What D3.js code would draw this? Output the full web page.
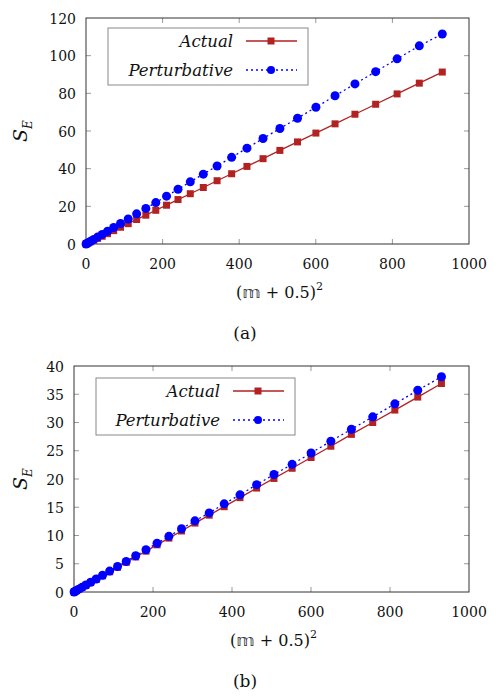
<!DOCTYPE html>
<html>
<head>
<meta charset="utf-8">
<script src="https://cdn.jsdelivr.net/npm/d3@7"></script>
<style>
  body { margin: 0; background: #fff; }
</style>
</head>
<body>
<div id="chart"></div>
<script>
// x values: (n + 0.5)^2 for n = 0..30
const xVals = [0.25, 2.25, 6.25, 12.25, 20.25, 30.25, 42.25, 56.25, 72.25, 90.25,
  110.25, 132.25, 156.25, 182.25, 210.25, 240.25, 272.25, 306.25, 342.25, 380.25,
  420.25, 462.25, 506.25, 552.25, 600.25, 650.25, 702.25, 756.25, 812.25, 870.25, 930.25]

// panel (a)
const actualA = [0.03, 0.22, 0.62, 1.2, 2.0, 3.0, 4.1, 5.5, 7.1, 8.9,
  10.8, 13.0, 15.3, 17.9, 20.6, 23.6, 26.7, 30.0, 33.6, 37.3,
  41.2, 45.3, 49.7, 54.2, 58.9, 63.8, 68.9, 74.2, 79.7, 85.4, 91.3]
const pertA = [0.03, 0.27, 0.76, 1.48, 2.45, 3.66, 5.1, 6.8, 8.75, 10.9,
  13.3, 16.0, 18.9, 22.0, 25.4, 29.1, 33.0, 37.1, 41.4, 46.0,
  50.9, 56.0, 61.3, 66.8, 72.6, 78.7, 85.0, 91.5, 98.3, 105.2, 111.5]
const yTicksA = [0, 20, 40, 60, 80, 100, 120]

// panel (b)
const actualB = [0.01, 0.09, 0.25, 0.49, 0.80, 1.20, 1.68, 2.23, 2.87, 3.58,
  4.38, 5.25, 6.20, 7.23, 8.35, 9.54, 10.8, 12.2, 13.6, 15.1,
  16.7, 18.4, 20.1, 21.9, 23.8, 25.8, 27.9, 30.0, 32.2, 34.5, 36.9]
const pertB = [0.01, 0.09, 0.26, 0.50, 0.83, 1.24, 1.73, 2.31, 2.96, 3.70,
  4.52, 5.42, 6.41, 7.47, 8.62, 9.85, 11.2, 12.6, 14.0, 15.6,
  17.2, 19.0, 20.8, 22.6, 24.6, 26.7, 28.8, 31.0, 33.3, 35.7, 38.1]
const yTicksB = [0, 5, 10, 15, 20, 25, 30, 35, 40]

const xTicks = [0, 200, 400, 600, 800, 1000]
const seriesNames = ["Actual", "Perturbative"]

const red = "#b22222"
const blue = "#0000ff"
const serif = "'DejaVu Serif', 'Liberation Serif', serif"

const svg = d3.select("#chart").append("svg")
  .attr("width", 498)
  .attr("height", 700)
  .attr("font-family", serif)
  .style("fill", "#111")

const drawPanel = (cfg) => {
  const x = d3.scaleLinear().domain([0, 1000]).range([cfg.left, cfg.right])
  const y = d3.scaleLinear().domain([0, cfg.yMax]).range([cfg.bottom, cfg.top])
  const g = svg.append("g")

  // ticks inside, on all four sides
  const tickLen = 5
  g.selectAll(".xt").data(xTicks.slice(1, -1)).enter().append("path")
    .attr("d", d => `M${x(d)},${cfg.bottom}v${-tickLen}M${x(d)},${cfg.top}v${tickLen}`)
    .attr("stroke", "#999").attr("stroke-width", 1)
  g.selectAll(".yt").data(cfg.yTicks.slice(1, -1)).enter().append("path")
    .attr("d", d => `M${cfg.left},${y(d)}h${tickLen}M${cfg.right},${y(d)}h${-tickLen}`)
    .attr("stroke", "#999").attr("stroke-width", 1)

  // frame
  g.append("rect")
    .attr("x", cfg.left).attr("y", cfg.top)
    .attr("width", cfg.right - cfg.left).attr("height", cfg.bottom - cfg.top)
    .attr("fill", "none").attr("stroke", "#333").attr("stroke-width", 1)

  // tick labels
  g.selectAll(".xl").data(xTicks).enter().append("text")
    .attr("x", d => x(d)).attr("y", cfg.bottom + 25)
    .attr("text-anchor", "middle").attr("font-size", 14)
    .text(d => d)
  g.selectAll(".yl").data(cfg.yTicks).enter().append("text")
    .attr("x", cfg.left - 10).attr("y", d => y(d) + 5.5)
    .attr("text-anchor", "end").attr("font-size", 14)
    .text(d => d)

  // axis labels
  const xl = g.append("text")
    .attr("x", (cfg.left + cfg.right) / 2 + 2).attr("y", cfg.bottom + 54)
    .attr("text-anchor", "middle").attr("font-size", 16)
  xl.append("tspan").text("(")
  xl.append("tspan").attr("font-family", "DejaVu Sans").attr("fill", "#333").text("𝕞")
  xl.append("tspan").text(" + 0.5)")
  xl.append("tspan").attr("font-size", 11).attr("dy", -8).text("2")

  const yl = g.append("text")
    .attr("transform", `translate(27,${(cfg.top + cfg.bottom) / 2}) rotate(-90)`)
    .attr("text-anchor", "middle").attr("font-size", 19)
  yl.append("tspan").attr("font-style", "italic").text("S")
  yl.append("tspan").attr("font-style", "italic").attr("font-size", 12).attr("dy", 5).text("E")

  g.append("text")
    .attr("x", 245).attr("y", cfg.bottom + 95)
    .attr("text-anchor", "middle").attr("font-size", 17)
    .text(cfg.caption)

  // series
  const line = d3.line().x(d => x(d[0])).y(d => y(d[1]))
  const actPts = xVals.map((v, i) => [v, cfg.actual[i]])
  const pertPts = xVals.map((v, i) => [v, cfg.pert[i]])

  g.append("path").datum(actPts).attr("d", line)
    .attr("fill", "none").attr("stroke", red).attr("stroke-width", 1.3)
  g.selectAll(".sq").data(actPts).enter().append("rect")
    .attr("x", d => x(d[0]) - 3.5).attr("y", d => y(d[1]) - 3.5)
    .attr("width", 7).attr("height", 7).attr("fill", red)

  g.append("path").datum(pertPts).attr("d", line)
    .attr("fill", "none").attr("stroke", blue).attr("stroke-width", 1.3)
    .attr("stroke-dasharray", "2,3")
  g.selectAll(".ci").data(pertPts).enter().append("circle")
    .attr("cx", d => x(d[0])).attr("cy", d => y(d[1]))
    .attr("r", 4.5).attr("fill", blue)

  // legend
  const L = cfg.legend
  g.append("rect")
    .attr("x", L.x).attr("y", L.y).attr("width", L.w).attr("height", L.h)
    .attr("fill", "#fff").attr("stroke", "#888").attr("stroke-width", 1)
  seriesNames.forEach((name, i) => {
    const ry = L.y + 13 + i * 29
    g.append("text")
      .attr("x", L.textEnd).attr("y", ry + 6)
      .attr("text-anchor", "end").attr("font-size", 16.5).attr("font-style", "italic")
      .text(name)
    g.append("line")
      .attr("x1", L.textEnd + 13).attr("x2", L.textEnd + 64)
      .attr("y1", ry).attr("y2", ry)
      .attr("stroke", i === 0 ? red : blue).attr("stroke-width", 1.3)
      .attr("stroke-dasharray", i === 0 ? null : "2,3")
    const cx = L.textEnd + 38
    if (i === 0) {
      g.append("rect").attr("x", cx - 3.5).attr("y", ry - 3.5)
        .attr("width", 7).attr("height", 7).attr("fill", red)
    } else {
      g.append("circle").attr("cx", cx).attr("cy", ry).attr("r", 4).attr("fill", blue)
    }
  })
}

drawPanel({
  left: 86, right: 469, top: 18, bottom: 244, yMax: 120, yTicks: yTicksA,
  actual: actualA, pert: pertA, caption: "(a)",
  legend: { x: 108, y: 28, w: 200, h: 57, textEnd: 233 }
})

drawPanel({
  left: 74, right: 469, top: 366, bottom: 592, yMax: 40, yTicks: yTicksB,
  actual: actualB, pert: pertB, caption: "(b)",
  legend: { x: 96, y: 378, w: 199, h: 57, textEnd: 220 }
})
</script>
</body>
</html>
